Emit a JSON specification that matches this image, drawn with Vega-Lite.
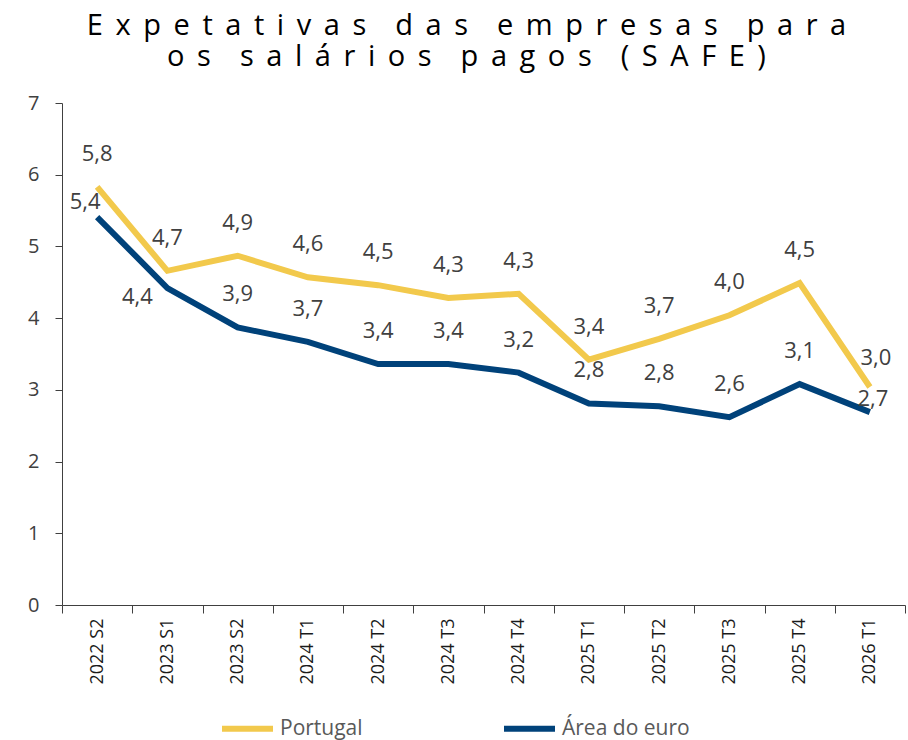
{
  "$schema": "https://vega.github.io/schema/vega-lite/v6.json",
  "width": 843,
  "height": 502,
  "autosize": {"type": "none"},
  "padding": {"left": 62, "top": 103, "right": 3, "bottom": 135},
  "title": {
    "text": [
      "E\u2004\u200ax\u2004\u200ap\u2004\u200ae\u2004\u200at\u2004\u200aa\u2004\u200at\u2004\u200ai\u2004\u200av\u2004\u200aa\u2004\u200as\u2004\u2004\u2004d\u2004\u200aa\u2004\u200as\u2004\u2004\u2004e\u2004\u200am\u2004\u200ap\u2004\u200ar\u2004\u200ae\u2004\u200as\u2004\u200aa\u2004\u200as\u2004\u2004\u2004p\u2004\u200aa\u2004\u200ar\u2004\u200aa",
      "o\u2004\u200as\u2004\u2004\u2004s\u2004\u200aa\u2004\u200al\u2004\u200aá\u2004\u200ar\u2004\u200ai\u2004\u200ao\u2004\u200as\u2004\u2004\u2004p\u2004\u200aa\u2004\u200ag\u2004\u200ao\u2004\u200as\u2004\u2004\u2004(\u2004\u200aS\u2004\u200aA\u2004\u200aF\u2004\u200aE\u2004\u200a)"
    ],
    "font": "Open Sans",
    "fontSize": 29,
    "fontWeight": "normal",
    "color": "#000000",
    "anchor": "middle",
    "frame": "group",
    "baseline": "alphabetic",
    "lineHeight": 31,
    "offset": -2,
    "dx": -17
  },
  "config": {
    "locale": {"number": {"decimal": ",", "thousands": ".", "grouping": [3], "currency": ["", " €"]}},
    "view": {"stroke": null},
    "font": "Open Sans"
  },
  "data": {
    "values": [
      {"period": "2022 S2", "series": "Portugal", "value": 5.83},
      {"period": "2023 S1", "series": "Portugal", "value": 4.66},
      {"period": "2023 S2", "series": "Portugal", "value": 4.87},
      {"period": "2024 T1", "series": "Portugal", "value": 4.57},
      {"period": "2024 T2", "series": "Portugal", "value": 4.46},
      {"period": "2024 T3", "series": "Portugal", "value": 4.28},
      {"period": "2024 T4", "series": "Portugal", "value": 4.34},
      {"period": "2025 T1", "series": "Portugal", "value": 3.42},
      {"period": "2025 T2", "series": "Portugal", "value": 3.71},
      {"period": "2025 T3", "series": "Portugal", "value": 4.04},
      {"period": "2025 T4", "series": "Portugal", "value": 4.49},
      {"period": "2026 T1", "series": "Portugal", "value": 3.04},
      {"period": "2022 S2", "series": "Área do euro", "value": 5.41},
      {"period": "2023 S1", "series": "Área do euro", "value": 4.42},
      {"period": "2023 S2", "series": "Área do euro", "value": 3.87},
      {"period": "2024 T1", "series": "Área do euro", "value": 3.67},
      {"period": "2024 T2", "series": "Área do euro", "value": 3.36},
      {"period": "2024 T3", "series": "Área do euro", "value": 3.36},
      {"period": "2024 T4", "series": "Área do euro", "value": 3.24},
      {"period": "2025 T1", "series": "Área do euro", "value": 2.81},
      {"period": "2025 T2", "series": "Área do euro", "value": 2.77},
      {"period": "2025 T3", "series": "Área do euro", "value": 2.62},
      {"period": "2025 T4", "series": "Área do euro", "value": 3.08},
      {"period": "2026 T1", "series": "Área do euro", "value": 2.69}
    ]
  },
  "encoding": {
    "x": {
      "field": "period",
      "type": "ordinal",
      "sort": null,
      "scale": {"paddingInner": 0, "paddingOuter": 0},
      "axis": {
        "title": null,
        "labelAngle": 270,
        "labelFont": "Open Sans",
        "labelFontSize": 18,
        "labelColor": "#1a1a1a",
        "labelPadding": 5,
        "tickBand": "extent",
        "tickSize": 8,
        "tickColor": "#404040",
        "domainColor": "#404040",
        "grid": false
      }
    },
    "y": {
      "field": "value",
      "type": "quantitative",
      "scale": {"domain": [0, 7], "nice": false},
      "axis": {
        "title": null,
        "values": [0, 1, 2, 3, 4, 5, 6, 7],
        "grid": false,
        "labelFont": "Open Sans",
        "labelFontSize": 20,
        "labelColor": "#404040",
        "labelPadding": 16,
        "tickSize": 7,
        "tickColor": "#404040",
        "domainColor": "#404040"
      }
    }
  },
  "layer": [
    {
      "mark": {"type": "line", "strokeWidth": 6},
      "encoding": {
        "color": {
          "field": "series",
          "type": "nominal",
          "scale": {"domain": ["Portugal", "Área do euro"], "range": ["#F2C94C", "#00427A"]},
          "legend": {
            "title": null,
            "orient": "none",
            "direction": "horizontal",
            "legendX": 157,
            "legendY": 597,
            "symbolType": "stroke",
            "symbolSize": 2601,
            "symbolStrokeWidth": 6,
            "labelFont": "Open Sans",
            "labelFontSize": 21,
            "labelColor": "#595959",
            "labelOffset": 4,
            "columnPadding": 129,
            "padding": 0
          }
        }
      }
    },
    {
      "transform": [{"filter": "!((datum.series == 'Área do euro' && (datum.period == '2022 S2' || datum.period == '2023 S1' || datum.period == '2026 T1')) || (datum.series == 'Portugal' && datum.period == '2026 T1'))"}],
      "mark": {"type": "text", "dy": -33, "fontSize": 22, "color": "#404040", "font": "Open Sans", "baseline": "middle"},
      "encoding": {"text": {"field": "value", "type": "quantitative", "format": ".1f"}}
    },
    {
      "transform": [{"filter": "datum.series == 'Área do euro' && datum.period == '2022 S2'"}],
      "mark": {"type": "text", "dx": -12, "dy": -15, "fontSize": 22, "color": "#404040", "font": "Open Sans", "baseline": "middle"},
      "encoding": {"text": {"field": "value", "type": "quantitative", "format": ".1f"}}
    },
    {
      "transform": [{"filter": "datum.series == 'Área do euro' && datum.period == '2023 S1'"}],
      "mark": {"type": "text", "dx": -30, "dy": 9, "fontSize": 22, "color": "#404040", "font": "Open Sans", "baseline": "middle"},
      "encoding": {"text": {"field": "value", "type": "quantitative", "format": ".1f"}}
    },
    {
      "transform": [{"filter": "datum.series == 'Área do euro' && datum.period == '2026 T1'"}],
      "mark": {"type": "text", "dx": 3, "dy": -13, "fontSize": 22, "color": "#404040", "font": "Open Sans", "baseline": "middle"},
      "encoding": {"text": {"field": "value", "type": "quantitative", "format": ".1f"}}
    },
    {
      "transform": [{"filter": "datum.series == 'Portugal' && datum.period == '2026 T1'"}],
      "mark": {"type": "text", "dx": 6, "dy": -29, "fontSize": 22, "color": "#404040", "font": "Open Sans", "baseline": "middle"},
      "encoding": {"text": {"field": "value", "type": "quantitative", "format": ".1f"}}
    }
  ]
}
